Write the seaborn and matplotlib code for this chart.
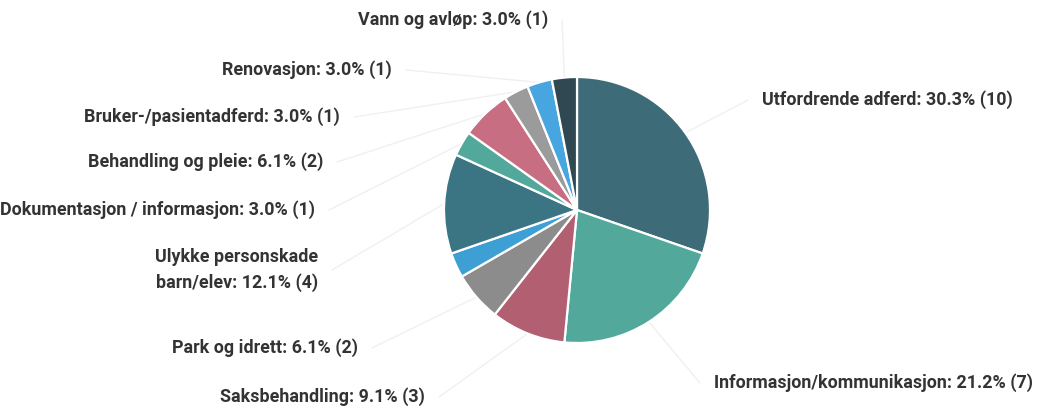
import numpy as np
import matplotlib.pyplot as plt
import seaborn as sns

categories = ['Utfordrende adferd', 'Informasjon/kommunikasjon', 'Saksbehandling',
              'Park og idrett', '', 'Ulykke personskade\nbarn/elev',
              'Dokumentasjon / informasjon', 'Behandling og pleie',
              'Bruker-/pasientadferd', 'Renovasjon', 'Vann og avløp']
counts = [10, 7, 3, 2, 1, 4, 1, 2, 1, 1, 1]
colors = ['#3d6b77', '#52a99b', '#b35f72', '#8c8c8c', '#3d9fd3', '#3b7583',
          '#52a99b', '#c76e83', '#9b9b9b', '#47a5df', '#2f4852']

# label anchor (pixel coords) and alignment
label_pos = [(762, 100, 'left'), (714, 383, 'left'), (425, 397, 'right'),
             (358, 348, 'right'), None, (318, 270, 'right'), (315, 210, 'right'),
             (323, 162, 'right'), (340, 117, 'right'), (392, 70, 'right'),
             (548, 20, 'right')]

sns.set_theme(style="white")
plt.rcParams['font.family'] = ['Roboto', 'DejaVu Sans']

W, H = 1058, 412
fig = plt.figure(figsize=(W / 100, H / 100), dpi=100)
ax = fig.add_axes([0, 0, 1, 1])

cx, cy, r = 577, H - 210, 133
wedges, _ = ax.pie(counts, colors=colors, startangle=90, counterclock=False,
                   center=(cx, cy), radius=r, frame=True,
                   wedgeprops=dict(edgecolor='white', linewidth=1.6))
ax.set_xlim(0, W)
ax.set_ylim(0, H)
ax.set_aspect('equal')
ax.axis('off')

total = sum(counts)
for w, name, n, pos in zip(wedges, categories, counts, label_pos):
    if pos is None:
        continue
    ang = np.deg2rad((w.theta1 + w.theta2) / 2)
    x0, y0 = cx + r * np.cos(ang), cy + r * np.sin(ang)
    lx, ly, ha = pos
    ly = H - ly
    ex = lx - 14 if ha == 'left' else lx + 14
    ax.plot([x0, ex], [y0, ly], color='#f0f0f0', lw=1, zorder=0)
    ax.text(lx, ly, f'{name}: {n / total * 100:.1f}% ({n})', ha=ha, va='center',
            fontsize=12.9, fontweight='bold', color='#333333', linespacing=1.55)

fig.savefig('out.png', dpi=100)
